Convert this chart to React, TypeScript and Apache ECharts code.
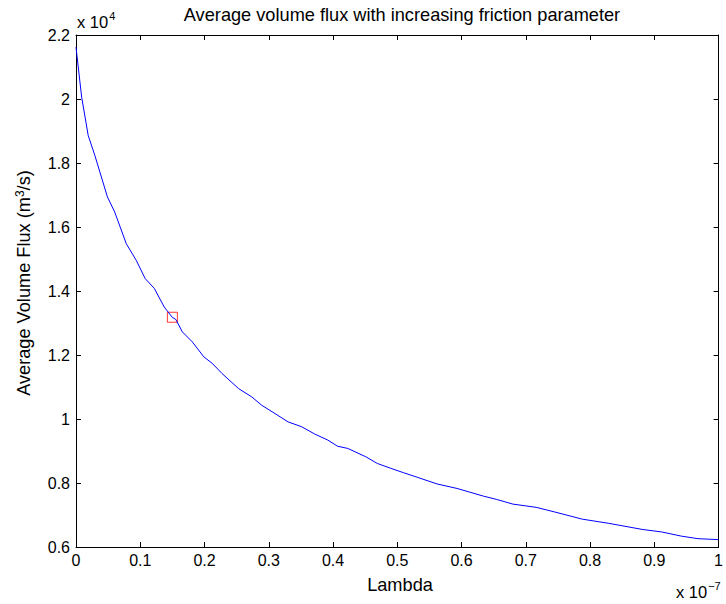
import React, { useEffect, useRef } from "react";
import * as echarts from "echarts";

// Lambda (units of 1e-7) and average volume flux (units of 1e4 m^3/s)
const lambda = [
  0, 0.0088, 0.019, 0.0293, 0.0489, 0.0602, 0.0782, 0.0937, 0.1076, 0.1219,
  0.1373, 0.1497, 0.1554, 0.1656, 0.181, 0.199, 0.212, 0.2273, 0.253, 0.2736,
  0.289, 0.3097, 0.33, 0.351, 0.3715, 0.392, 0.407, 0.423, 0.451, 0.469,
  0.4897, 0.51, 0.531, 0.562, 0.593, 0.634, 0.654, 0.68, 0.716, 0.744,
  0.788, 0.829, 0.881, 0.9116, 0.942, 0.968, 1.0,
];
const flux = [
  2.162, 2.006, 1.886, 1.824, 1.694, 1.647, 1.548, 1.496, 1.439, 1.408,
  1.35, 1.318, 1.311, 1.272, 1.241, 1.194, 1.174, 1.142, 1.095, 1.069,
  1.043, 1.017, 0.991, 0.976, 0.953, 0.934, 0.915, 0.908, 0.882, 0.861,
  0.846, 0.832, 0.818, 0.797, 0.783, 0.759, 0.749, 0.734, 0.724, 0.71,
  0.687, 0.674, 0.655, 0.647, 0.634, 0.626, 0.623,
];
const markerPoint = [0.15, 1.318];

const xTicks = { min: 0, max: 1, interval: 0.1 };
const yTicks = { min: 0.6, max: 2.2, interval: 0.2 };

const titleText = "Average volume flux with increasing friction parameter";
const xLabel = "Lambda";

const FONT = "'Liberation Sans', Arial, Helvetica, sans-serif";
const TICK_FS = 16;
const LABEL_FS = 18.2;

export default function App() {
  const ref = useRef<HTMLDivElement>(null);
  useEffect(() => {
    if (!ref.current) return;
    const chart = echarts.init(ref.current, undefined, { renderer: "svg" });
    const tickStyle = { show: true, inside: true, length: 5, lineStyle: { color: "#000", width: 1 } };
    const lineStyle = { show: true, onZero: false, lineStyle: { color: "#000", width: 1 } };
    const fmt = (v: number) => String(parseFloat(v.toFixed(4)));
    const data = lambda.map((x, i) => [x, flux[i]]);
    const expRich = {
      b: { fontSize: 16.5, fontFamily: FONT, fill: "#000", lineHeight: 20, verticalAlign: "bottom" },
      s: { fontSize: 11, fontFamily: FONT, fill: "#000", lineHeight: 20, verticalAlign: "top", padding: [0, 0, 9, 1] },
    };
    chart.setOption({
      animation: false,
      backgroundColor: "#fff",
      textStyle: { fontFamily: FONT },
      title: {
        text: titleText,
        left: 397,
        top: 1,
        textAlign: "center",
        textStyle: { fontSize: LABEL_FS, fontWeight: "normal", color: "#000", fontFamily: FONT },
      },
      grid: { left: 76, right: 2, top: 35, bottom: 57, containLabel: false },
      xAxis: [
        {
          type: "value",
          ...xTicks,
          position: "bottom",
          axisLine: lineStyle,
          axisTick: tickStyle,
          splitLine: { show: false },
          axisLabel: { color: "#000", fontSize: TICK_FS, fontFamily: FONT, margin: 5, formatter: fmt },
        },
        {
          type: "value",
          ...xTicks,
          position: "top",
          axisLine: lineStyle,
          axisTick: tickStyle,
          splitLine: { show: false },
          axisLabel: { show: false },
        },
      ],
      yAxis: [
        {
          type: "value",
          ...yTicks,
          position: "left",
          axisLine: lineStyle,
          axisTick: tickStyle,
          splitLine: { show: false },
          axisLabel: { color: "#000", fontSize: TICK_FS, fontFamily: FONT, margin: 6, formatter: fmt },
        },
        {
          type: "value",
          ...yTicks,
          position: "right",
          axisLine: lineStyle,
          axisTick: tickStyle,
          splitLine: { show: false },
          axisLabel: { show: false },
        },
      ],
      series: [
        {
          type: "line",
          data,
          showSymbol: false,
          symbol: "none",
          lineStyle: { color: "#0000ff", width: 1 },
          xAxisIndex: 0,
          yAxisIndex: 0,
        },
        {
          type: "scatter",
          data: [markerPoint],
          symbol: "rect",
          symbolSize: 10,
          itemStyle: { color: "rgba(0,0,0,0)", borderColor: "#ff0000", borderWidth: 1 },
          xAxisIndex: 0,
          yAxisIndex: 0,
        },
      ],
      graphic: [
        {
          type: "text",
          x: 77,
          y: 10,
          style: { text: "{b|x 10}{s|4}", rich: expRich },
        },
        {
          type: "text",
          x: 676,
          y: 580,
          style: { text: "{b|x 10}{s|−7}", rich: expRich },
        },
        {
          type: "text",
          x: 400,
          y: 585,
          style: {
            text: xLabel,
            fontSize: LABEL_FS,
            fontFamily: FONT,
            fill: "#000",
            align: "center",
            verticalAlign: "middle",
          },
        },
        {
          type: "text",
          x: 24,
          y: 283,
          rotation: Math.PI / 2,
          style: {
            text: "{b|Average Volume Flux (m}{s|3}{b|/s)}",
            align: "center",
            verticalAlign: "middle",
            rich: {
              b: { fontSize: LABEL_FS, fontFamily: FONT, fill: "#000", lineHeight: 22 },
              s: { fontSize: 12, fontFamily: FONT, fill: "#000", lineHeight: 22, padding: [0, 0, 9, 0] },
            },
          },
        },
      ],
    });
    return () => chart.dispose();
  }, []);
  return <div ref={ref} style={{ width: 726, height: 604, position: "absolute", left: 0, top: 0 }} />;
}
